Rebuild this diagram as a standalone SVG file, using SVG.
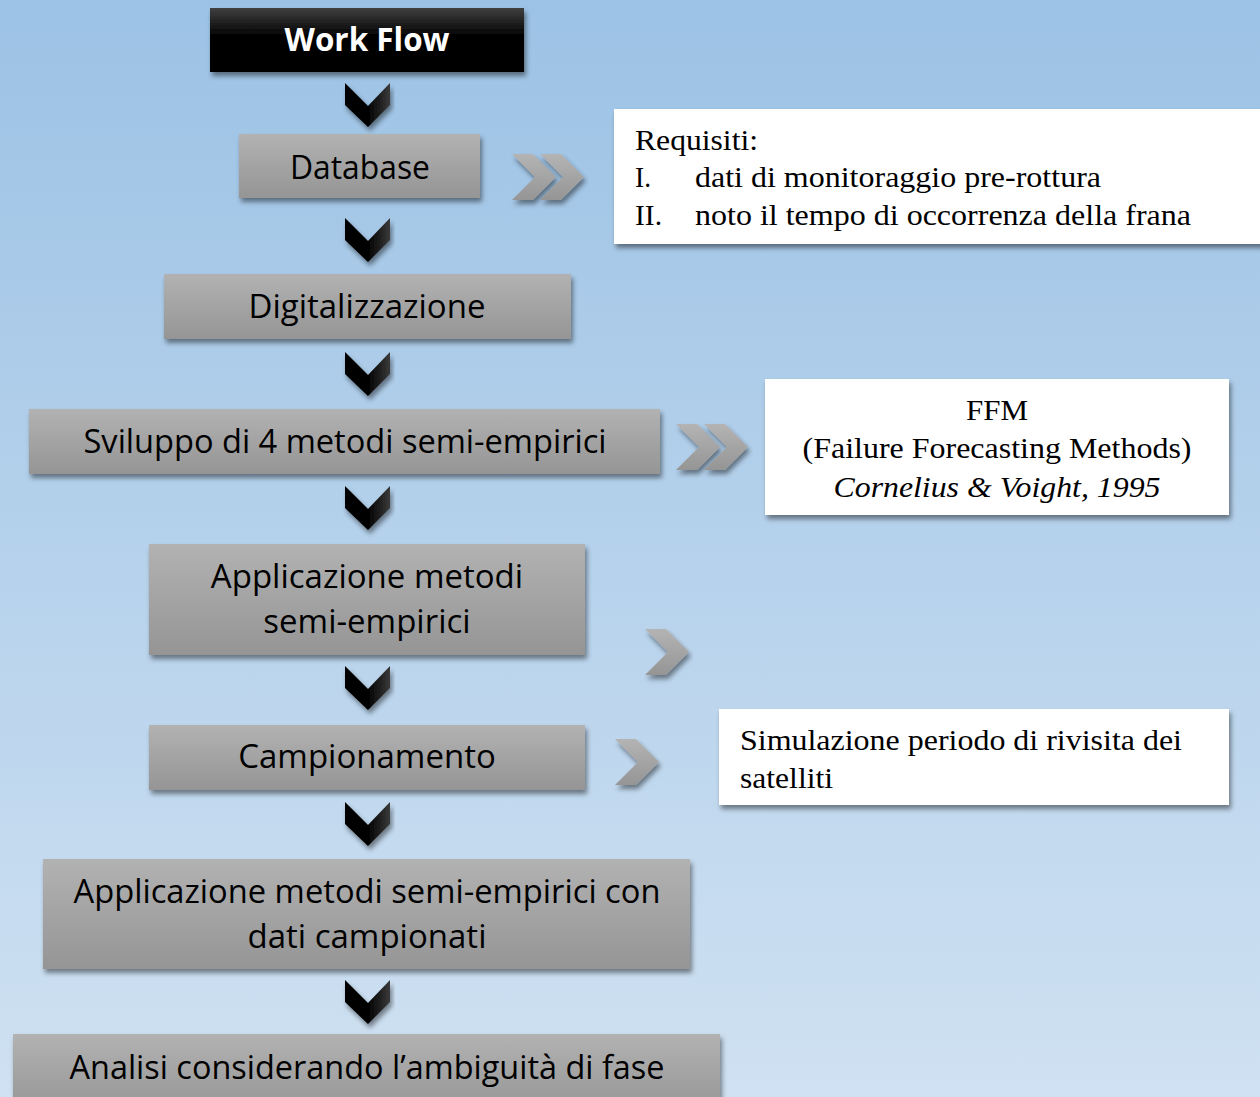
<svg xmlns="http://www.w3.org/2000/svg" width="1260" height="1097" viewBox="0 0 1260 1097">
<defs>
<linearGradient id="bg" x1="0" y1="0" x2="0" y2="1">
<stop offset="0" stop-color="#9cc2e5"/>
<stop offset="1" stop-color="#cfe1f2"/>
</linearGradient>
<linearGradient id="gbox" x1="0" y1="0" x2="0" y2="1">
<stop offset="0" stop-color="#b2b2b2"/>
<stop offset="1" stop-color="#959595"/>
</linearGradient>
<linearGradient id="bbox" x1="0" y1="0" x2="0" y2="1">
<stop offset="0" stop-color="#404040"/>
<stop offset="0.45" stop-color="#000"/>
<stop offset="1" stop-color="#000"/>
</linearGradient>
<linearGradient id="chev" x1="0" y1="0" x2="1" y2="0">
<stop offset="0" stop-color="#000"/>
<stop offset="0.5" stop-color="#000"/>
<stop offset="1" stop-color="#3a3a3a"/>
</linearGradient>
<linearGradient id="gchev" x1="0" y1="0" x2="0" y2="1">
<stop offset="0" stop-color="#b4b4b4"/>
<stop offset="1" stop-color="#959595"/>
</linearGradient>
<filter id="sh" x="-10%" y="-20%" width="120%" height="150%">
<feDropShadow dx="2" dy="4" stdDeviation="2.5" flood-color="#000" flood-opacity="0.45"/>
</filter>
<path id="cd" d="M0,0 L23,23 L45,0 L45,22 L23,44 L0,22 Z"/>
<path id="cr" d="M0,0 L21,0 L44,23 L21,46 L0,46 L23,23 Z"/>
</defs>
<style>
.gb{fill:url(#gbox);filter:url(#sh)}
.wb{fill:#fff;filter:url(#sh)}
.t{font-family:"Open Sans","Noto Sans",sans-serif;font-size:33px;fill:#000;text-anchor:middle}
.s{font-family:"Liberation Serif","Times New Roman",serif;font-size:28.5px;fill:#000}
.cd{fill:url(#chev);filter:url(#sh)}
.cr{fill:url(#gchev);filter:url(#sh)}
</style>
<rect width="1260" height="1097" fill="url(#bg)"/>

<g id="connectors">
<use href="#cd" x="345" y="83" class="cd"/>
<use href="#cd" x="345" y="218" class="cd"/>
<use href="#cd" x="345" y="352" class="cd"/>
<use href="#cd" x="345" y="486" class="cd"/>
<use href="#cd" x="345" y="666" class="cd"/>
<use href="#cd" x="345" y="802" class="cd"/>
<use href="#cd" x="345" y="980" class="cd"/>
<use href="#cr" x="512" y="154" class="cr"/>
<use href="#cr" x="540" y="154" class="cr"/>
<use href="#cr" x="676" y="424" class="cr"/>
<use href="#cr" x="704" y="424" class="cr"/>
<use href="#cr" x="645" y="629" class="cr"/>
<use href="#cr" x="615" y="739" class="cr"/>
</g>

<g id="workflow">
<rect x="210" y="8" width="314" height="64" fill="url(#bbox)" filter="url(#sh)"/>
<text x="367" y="51" class="t" style="fill:#fff;font-weight:bold;font-size:32px" textLength="165" lengthAdjust="spacingAndGlyphs">Work Flow</text>
</g>
<g id="database">
<rect x="239" y="134" width="241" height="64" class="gb"/>
<text x="360" y="179" class="t" textLength="140" lengthAdjust="spacingAndGlyphs">Database</text>
</g>
<g id="requisiti">
<rect x="614" y="109" width="650" height="135" class="wb"/>
<text x="635" y="150" class="s" textLength="123" lengthAdjust="spacingAndGlyphs">Requisiti:</text>
<text x="635" y="187" class="s" textLength="16" lengthAdjust="spacingAndGlyphs">I.</text>
<text x="695" y="187" class="s" textLength="406" lengthAdjust="spacingAndGlyphs">dati di monitoraggio pre-rottura</text>
<text x="635" y="225" class="s" textLength="27" lengthAdjust="spacingAndGlyphs">II.</text>
<text x="695" y="225" class="s" textLength="496" lengthAdjust="spacingAndGlyphs">noto il tempo di occorrenza della frana</text>
</g>
<g id="digitalizzazione">
<rect x="164" y="274" width="407" height="65" class="gb"/>
<text x="367" y="318" class="t">Digitalizzazione</text>
</g>
<g id="sviluppo">
<rect x="29" y="409" width="631" height="65" class="gb"/>
<text x="345" y="453" class="t" textLength="523" lengthAdjust="spacingAndGlyphs">Sviluppo di 4 metodi semi-empirici</text>
</g>
<g id="ffm">
<rect x="765" y="379" width="464" height="136" class="wb"/>
<text x="997" y="420" class="s" text-anchor="middle" textLength="62" lengthAdjust="spacingAndGlyphs">FFM</text>
<text x="997" y="458" class="s" text-anchor="middle" textLength="389" lengthAdjust="spacingAndGlyphs">(Failure Forecasting Methods)</text>
<text x="997" y="497" class="s" text-anchor="middle" font-style="italic" textLength="327" lengthAdjust="spacingAndGlyphs">Cornelius &amp; Voight, 1995</text>
</g>
<g id="applicazione">
<rect x="149" y="544" width="436" height="111" class="gb"/>
<text x="367" y="588" class="t">Applicazione metodi</text>
<text x="367" y="633" class="t">semi-empirici</text>
</g>
<g id="campionamento">
<rect x="149" y="725" width="436" height="65" class="gb"/>
<text x="367" y="768" class="t">Campionamento</text>
</g>
<g id="simulazione">
<rect x="719" y="709" width="510" height="96" class="wb"/>
<text x="740" y="750" class="s" textLength="442" lengthAdjust="spacingAndGlyphs">Simulazione periodo di rivisita dei</text>
<text x="740" y="788" class="s" textLength="93" lengthAdjust="spacingAndGlyphs">satelliti</text>
</g>
<g id="applicazione2">
<rect x="43" y="859" width="647" height="110" class="gb"/>
<text x="367" y="903" class="t" textLength="587" lengthAdjust="spacingAndGlyphs">Applicazione metodi semi-empirici con</text>
<text x="367" y="948" class="t">dati campionati</text>
</g>
<g id="analisi">
<rect x="13" y="1034" width="707" height="80" class="gb"/>
<text x="367" y="1079" class="t" textLength="595" lengthAdjust="spacingAndGlyphs">Analisi considerando l’ambiguità di fase</text>
</g>
</svg>
